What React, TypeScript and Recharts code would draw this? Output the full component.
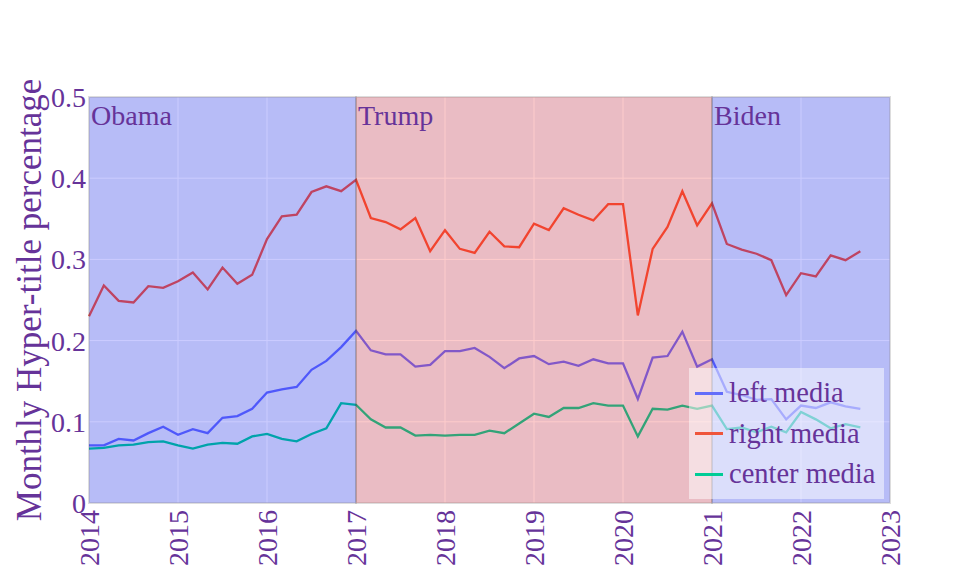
import React from 'react';
import { LineChart, Line, XAxis, YAxis, CartesianGrid, ReferenceArea } from 'recharts';

// bi-monthly samples, Jan 2014 .. Sep 2022
const months = [
  '2014-01', '2014-03', '2014-05', '2014-07', '2014-09', '2014-11',
  '2015-01', '2015-03', '2015-05', '2015-07', '2015-09', '2015-11',
  '2016-01', '2016-03', '2016-05', '2016-07', '2016-09', '2016-11',
  '2017-01', '2017-03', '2017-05', '2017-07', '2017-09', '2017-11',
  '2018-01', '2018-03', '2018-05', '2018-07', '2018-09', '2018-11',
  '2019-01', '2019-03', '2019-05', '2019-07', '2019-09', '2019-11',
  '2020-01', '2020-03', '2020-05', '2020-07', '2020-09', '2020-11',
  '2021-01', '2021-03', '2021-05', '2021-07', '2021-09', '2021-11',
  '2022-01', '2022-03', '2022-05', '2022-07', '2022-09',
];

const leftMedia = [
  0.071, 0.071, 0.079, 0.077, 0.086, 0.094, 0.084, 0.091, 0.086, 0.105, 0.107, 0.116,
  0.136, 0.140, 0.143, 0.164, 0.175, 0.192, 0.212, 0.188, 0.183, 0.183, 0.168, 0.170,
  0.187, 0.187, 0.191, 0.180, 0.166, 0.178, 0.181, 0.171, 0.174, 0.169, 0.177, 0.172,
  0.172, 0.128, 0.179, 0.181, 0.211, 0.168, 0.177, 0.137, 0.133, 0.127, 0.128, 0.103,
  0.120, 0.117, 0.124, 0.119, 0.116,
];

const rightMedia = [
  0.230, 0.268, 0.249, 0.247, 0.267, 0.265, 0.273, 0.284, 0.263, 0.290, 0.270, 0.281,
  0.325, 0.353, 0.355, 0.383, 0.390, 0.384, 0.398, 0.351, 0.346, 0.337, 0.351, 0.310,
  0.336, 0.313, 0.308, 0.334, 0.316, 0.315, 0.344, 0.336, 0.363, 0.355, 0.348, 0.368,
  0.368, 0.231, 0.313, 0.340, 0.384, 0.342, 0.369, 0.319, 0.312, 0.307, 0.299, 0.256,
  0.283, 0.279, 0.305, 0.299, 0.310,
];

const centerMedia = [
  0.067, 0.068, 0.071, 0.072, 0.075, 0.076, 0.071, 0.067, 0.072, 0.074, 0.073, 0.082,
  0.085, 0.079, 0.076, 0.085, 0.092, 0.123, 0.121, 0.103, 0.093, 0.093, 0.083, 0.084,
  0.083, 0.084, 0.084, 0.089, 0.086, 0.098, 0.110, 0.106, 0.117, 0.117, 0.123, 0.120,
  0.120, 0.082, 0.116, 0.115, 0.120, 0.116, 0.120, 0.091, 0.093, 0.087, 0.094, 0.087,
  0.112, 0.103, 0.092, 0.097, 0.093,
];

const xTicks = [2014, 2015, 2016, 2017, 2018, 2019, 2020, 2021, 2022, 2023];
const yTicks = [0, 0.1, 0.2, 0.3, 0.4, 0.5];

const terms = [
  { name: 'Obama', from: 2014, to: 2017, color: 'blue' },
  { name: 'Trump', from: 2017, to: 2021, color: 'red' },
  { name: 'Biden', from: 2021, to: 2023, color: 'blue' },
];

const series = [
  { key: 'left', name: 'left media', color: '#636efa' },
  { key: 'right', name: 'right media', color: '#EF553B' },
  { key: 'center', name: 'center media', color: '#00cc96' },
];

const toYear = (m: string) => {
  const [y, mo] = m.split('-').map(Number);
  return y + (mo - 1) / 12;
};

const data = months.map((m, i) => ({
  t: toYear(m),
  left: leftMedia[i],
  right: rightMedia[i],
  center: centerMedia[i],
}));

const W = 969;
const H = 581;
const TEXT = '#663399';
const FONT = '"Liberation Serif", "Times New Roman", serif';

const XTick = (props: any) => {
  const { x, y, payload } = props;
  return (
    <text
      x={x}
      y={y}
      dy="0.35em"
      transform={`rotate(-90, ${x}, ${y})`}
      textAnchor="end"
      fill={TEXT}
      fontSize={28}
      fontFamily={FONT}
    >
      {payload.value}
    </text>
  );
};

const termLabel = (name: string) => (props: any) => {
  const vb = props.viewBox || {};
  return (
    <text x={vb.x + 2} y={vb.y + 28} fill={TEXT} fontSize={28} fontFamily={FONT}>
      {name}
    </text>
  );
};

export default function App() {
  return (
    <div style={{ position: 'absolute', left: 0, top: 0, width: W, height: H, background: '#fff', fontFamily: FONT }}>
      <LineChart width={W} height={H} data={data} margin={{ top: 97, right: 79, left: 0, bottom: 0 }}>
        <CartesianGrid fill="#E5ECF6" stroke="#ffffff" strokeWidth={1} />
        <XAxis
          type="number"
          dataKey="t"
          domain={[2014, 2023]}
          ticks={xTicks}
          interval={0}
          height={78}
          axisLine={false}
          tickLine={false}
          tickSize={1}
          tickMargin={6}
          tick={<XTick />}
        />
        <YAxis
          domain={[0, 0.5]}
          ticks={yTicks}
          interval={0}
          width={89}
          axisLine={false}
          tickLine={false}
          tickSize={1}
          tickMargin={2}
          tick={{ fill: TEXT, fontSize: 28, fontFamily: FONT }}
          label={() => (
            <text
              x={41}
              y={300}
              transform="rotate(-90, 41, 300)"
              textAnchor="middle"
              fill={TEXT}
              fontSize={35}
              fontFamily={FONT}
            >
              Monthly Hyper-title percentage
            </text>
          )}
        />
        {series.map((s) => (
          <Line
            key={s.key}
            type="linear"
            dataKey={s.key}
            name={s.name}
            stroke={s.color}
            strokeWidth={2.3}
            dot={false}
            activeDot={false}
            isAnimationActive={false}
          />
        ))}
        {terms.map((p) => (
          <ReferenceArea
            key={p.name}
            x1={p.from}
            x2={p.to}
            y1={0}
            y2={0.5}
            fill={p.color}
            fillOpacity={0.2}
            stroke="#404040"
            strokeOpacity={0.18}
            strokeWidth={2}
            zIndex={450}
            label={termLabel(p.name)}
          />
        ))}
      </LineChart>
      <div
        style={{
          position: 'absolute',
          left: 689,
          top: 368,
          width: 195,
          height: 131,
          background: 'rgba(255,255,255,0.5)',
          boxSizing: 'border-box',
          paddingTop: 5,
        }}
      >
        {series.map((s) => (
          <div key={s.key} style={{ display: 'flex', alignItems: 'center', height: 40.5 }}>
            <div style={{ width: 28, height: 3, background: s.color, marginLeft: 6, marginRight: 6 }} />
            <span style={{ color: TEXT, fontSize: 28.5, fontFamily: FONT, lineHeight: '40px' }}>{s.name}</span>
          </div>
        ))}
      </div>
    </div>
  );
}
